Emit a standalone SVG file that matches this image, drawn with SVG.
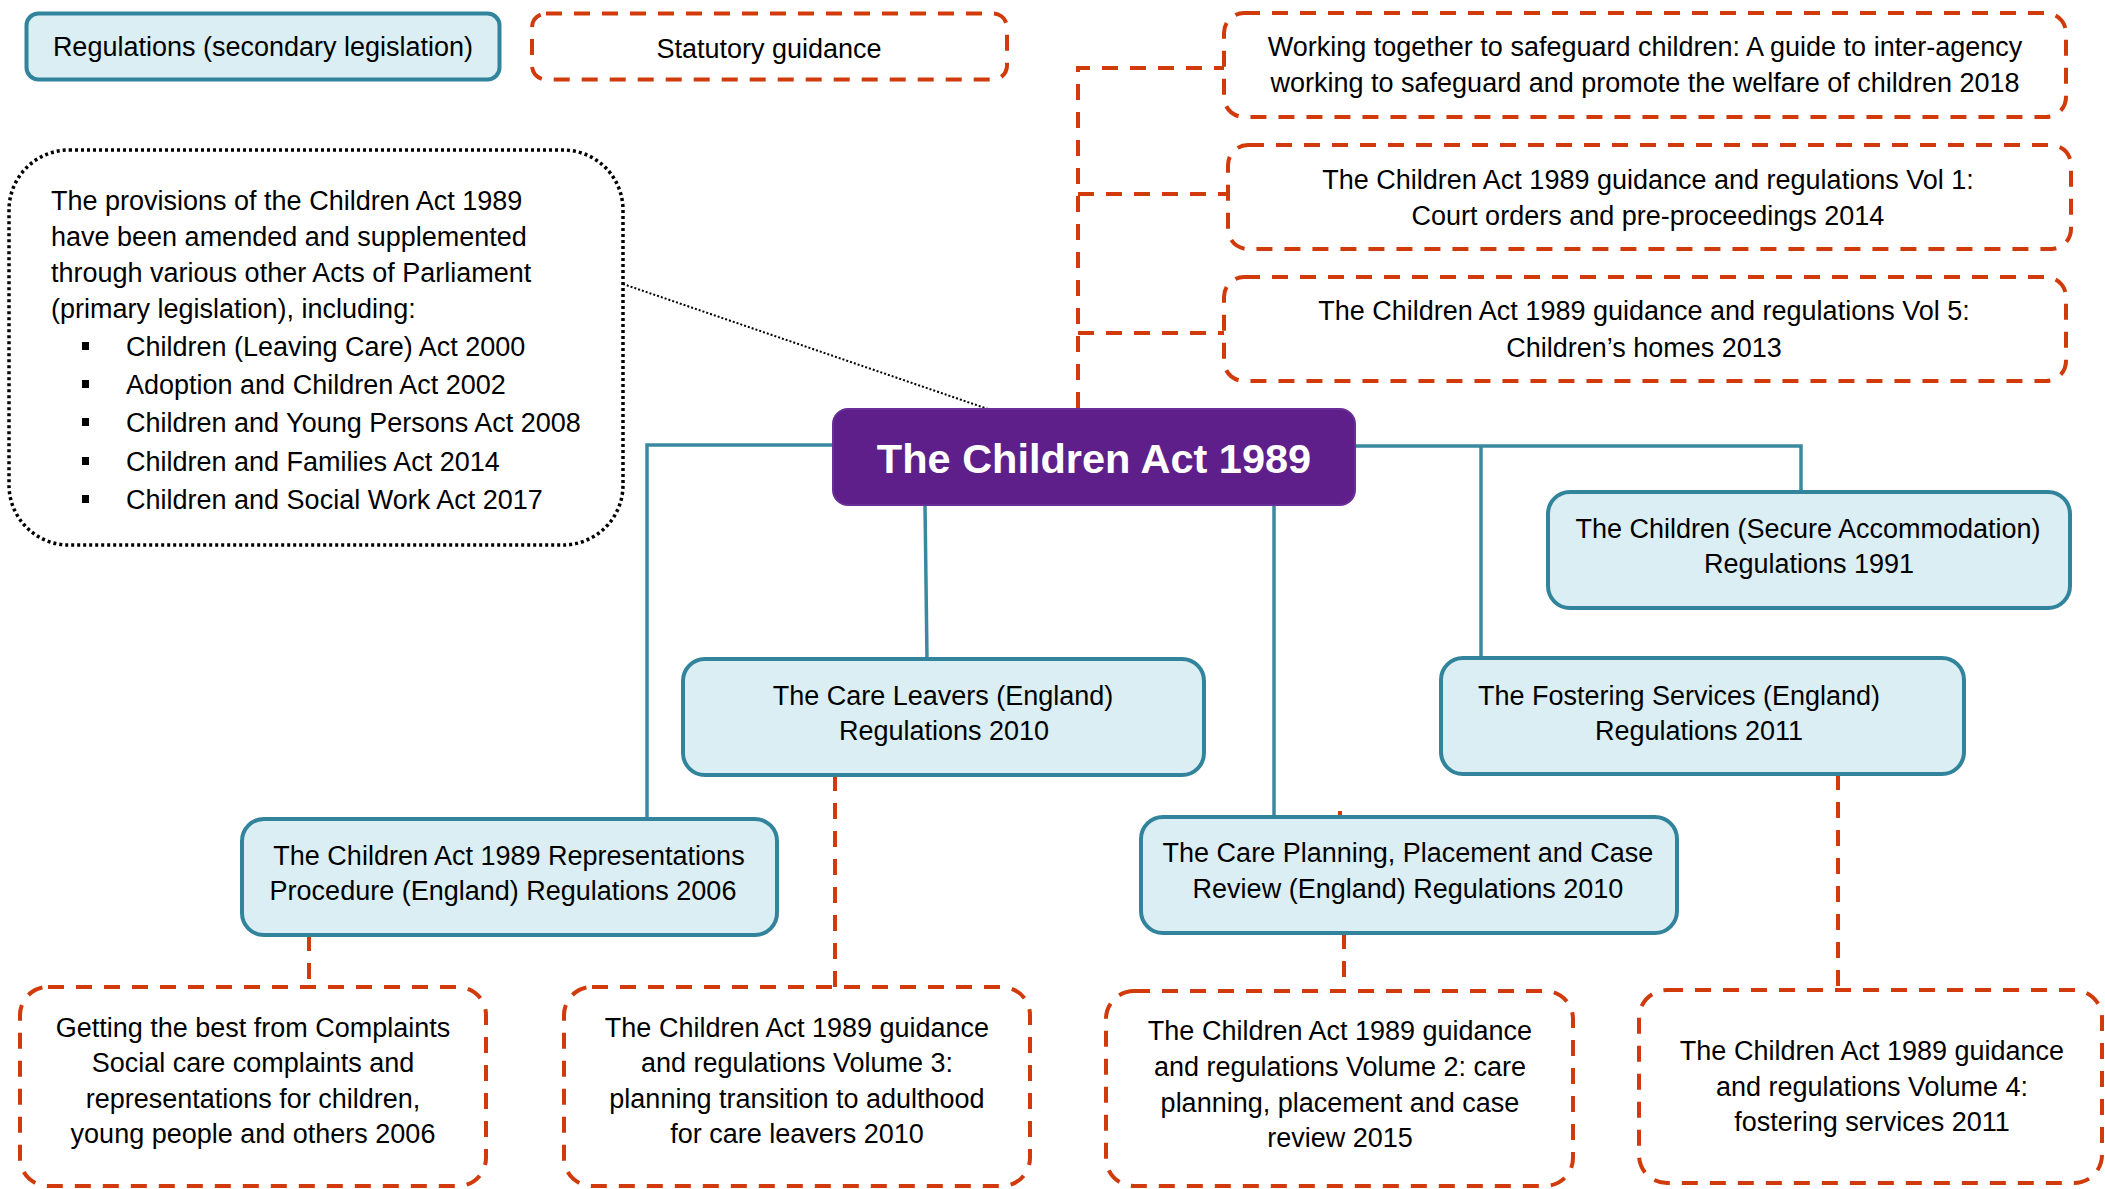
<svg xmlns="http://www.w3.org/2000/svg" width="2105" height="1189" viewBox="0 0 2105 1189">
<style>
  text { font-family: "Liberation Sans", Arial, sans-serif; font-size: 27px; fill: #000; }
  .c { text-anchor: middle; }
  .reg { fill: #DAEEF3; stroke: #31849B; stroke-width: 4; }
  .guide { fill: #fff; stroke: #D13A0A; stroke-width: 4; stroke-dasharray: 16 12; }
  .teal { fill: none; stroke: #3B89A0; stroke-width: 3.5; }
  .red { fill: none; stroke: #D13A0A; stroke-width: 4; stroke-dasharray: 16 12; }
  .title { font-weight: bold; font-size: 41.5px; fill: #fff; }
</style>
<rect width="2105" height="1189" fill="#fff"/>

<g id="connectors">
  <path class="teal" d="M833 445 H647 V819"/>
  <path class="teal" d="M1355 446 H1801 V492"/>
  <path class="teal" d="M1481 446 V658"/>
  <path class="teal" d="M925 505 L927 659"/>
  <path class="teal" d="M1274 505 V817"/>
  <path class="red" d="M1078 408 V68 H1224"/>
  <path class="red" d="M1078 194 H1228"/>
  <path class="red" d="M1078 333 H1224"/>
  <path class="red" d="M309 935 V987"/>
  <path class="red" d="M835 775 V987"/>
  <path class="red" d="M1344 933 V991"/>
  <path class="red" d="M1838 774 V990"/>
  <path class="red" d="M1340 811 V830"/>
  <path d="M623 284 L988 409" fill="none" stroke="#000" stroke-width="2" stroke-dasharray="2 2"/>
</g>

<g id="legend-regulations">
  <rect class="reg" x="26.5" y="13.5" width="473" height="66" rx="12"/>
  <text class="c" x="263" y="56">Regulations (secondary legislation)</text>
</g>
<g id="legend-guidance">
  <rect class="guide" x="532" y="13.5" width="475" height="66" rx="14"/>
  <text class="c" x="769" y="58">Statutory guidance</text>
</g>

<g id="primary-legislation">
  <rect x="9" y="150" width="614" height="395" rx="60" fill="#fff" stroke="#000" stroke-width="3.5" stroke-dasharray="3 3"/>
  <text x="51" y="210">The provisions of the Children Act 1989</text>
  <text x="51" y="246">have been amended and supplemented</text>
  <text x="51" y="282">through various other Acts of Parliament</text>
  <text x="51" y="318">(primary legislation), including:</text>
  <rect x="82" y="342" width="7" height="8"/>
  <rect x="82" y="380" width="7" height="8"/>
  <rect x="82" y="418" width="7" height="8"/>
  <rect x="82" y="457" width="7" height="8"/>
  <rect x="82" y="495" width="7" height="8"/>
  <text x="126" y="356">Children (Leaving Care) Act 2000</text>
  <text x="126" y="394">Adoption and Children Act 2002</text>
  <text x="126" y="432">Children and Young Persons Act 2008</text>
  <text x="126" y="471">Children and Families Act 2014</text>
  <text x="126" y="509">Children and Social Work Act 2017</text>
</g>

<g id="guidance-working-together">
  <rect class="guide" x="1224" y="13" width="842" height="104" rx="20"/>
  <text class="c" x="1645" y="56">Working together to safeguard children: A guide to inter-agency</text>
  <text class="c" x="1645" y="92">working to safeguard and promote the welfare of children 2018</text>
</g>
<g id="guidance-vol1">
  <rect class="guide" x="1228" y="145" width="843" height="104" rx="20"/>
  <text class="c" x="1648" y="189">The Children Act 1989 guidance and regulations Vol 1:</text>
  <text class="c" x="1648" y="225">Court orders and pre-proceedings 2014</text>
</g>
<g id="guidance-vol5">
  <rect class="guide" x="1224" y="277" width="842" height="104" rx="20"/>
  <text class="c" x="1644" y="320">The Children Act 1989 guidance and regulations Vol 5:</text>
  <text class="c" x="1644" y="357">Children’s homes 2013</text>
</g>

<g id="children-act-1989">
  <rect x="833" y="409" width="522" height="96" rx="15" fill="#5E1F8B" stroke="#6A2F96" stroke-width="2"/>
  <text class="c title" x="1094" y="473">The Children Act 1989</text>
</g>

<g id="secure-accommodation">
  <rect class="reg" x="1548" y="492" width="522" height="116" rx="22"/>
  <text class="c" x="1808" y="538">The Children (Secure Accommodation)</text>
  <text class="c" x="1809" y="573">Regulations 1991</text>
</g>
<g id="fostering-regulations">
  <rect class="reg" x="1441" y="658" width="523" height="116" rx="22"/>
  <text class="c" x="1679" y="705">The Fostering Services (England)</text>
  <text class="c" x="1699" y="740">Regulations 2011</text>
</g>
<g id="care-leavers-regulations">
  <rect class="reg" x="683" y="659" width="521" height="116" rx="22"/>
  <text class="c" x="943" y="705">The Care Leavers (England)</text>
  <text class="c" x="944" y="740">Regulations 2010</text>
</g>
<g id="representations-regulations">
  <rect class="reg" x="242" y="819" width="535" height="116" rx="22"/>
  <text class="c" x="509" y="865">The Children Act 1989 Representations</text>
  <text class="c" x="503" y="900">Procedure (England) Regulations 2006</text>
</g>
<g id="care-planning-regulations">
  <rect class="reg" x="1141" y="817" width="536" height="116" rx="22"/>
  <text class="c" x="1408" y="862">The Care Planning, Placement and Case</text>
  <text class="c" x="1408" y="898">Review (England) Regulations 2010</text>
</g>

<g id="guidance-complaints">
  <rect class="guide" x="20" y="987" width="466" height="199" rx="28"/>
  <text class="c" x="253" y="1037">Getting the best from Complaints</text>
  <text class="c" x="253" y="1072">Social care complaints and</text>
  <text class="c" x="253" y="1108">representations for children,</text>
  <text class="c" x="253" y="1143">young people and others 2006</text>
</g>
<g id="guidance-vol3">
  <rect class="guide" x="564" y="987" width="466" height="199" rx="28"/>
  <text class="c" x="797" y="1037">The Children Act 1989 guidance</text>
  <text class="c" x="797" y="1072">and regulations Volume 3:</text>
  <text class="c" x="797" y="1108">planning transition to adulthood</text>
  <text class="c" x="797" y="1143">for care leavers 2010</text>
</g>
<g id="guidance-vol2">
  <rect class="guide" x="1106" y="991" width="467" height="195" rx="28"/>
  <text class="c" x="1340" y="1040">The Children Act 1989 guidance</text>
  <text class="c" x="1340" y="1076">and regulations Volume 2: care</text>
  <text class="c" x="1340" y="1112">planning, placement and case</text>
  <text class="c" x="1340" y="1147">review 2015</text>
</g>
<g id="guidance-vol4">
  <rect class="guide" x="1639" y="990" width="463" height="193" rx="28"/>
  <text class="c" x="1872" y="1060">The Children Act 1989 guidance</text>
  <text class="c" x="1872" y="1096">and regulations Volume 4:</text>
  <text class="c" x="1872" y="1131">fostering services 2011</text>
</g>
</svg>
